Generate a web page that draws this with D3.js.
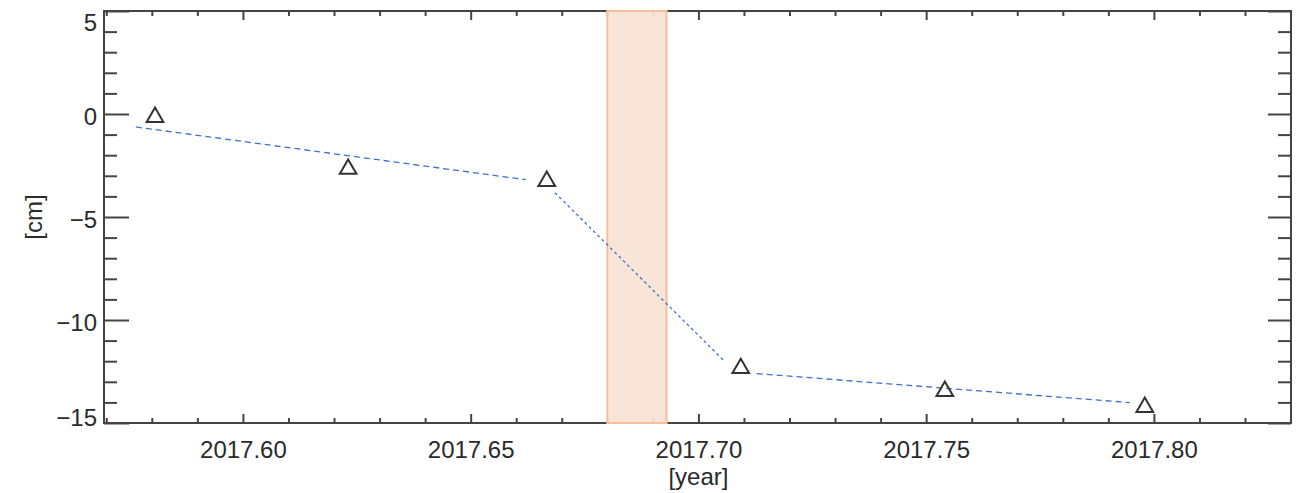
<!DOCTYPE html>
<html>
<head>
<meta charset="utf-8">
<script src="https://cdn.jsdelivr.net/npm/d3@7"></script>
<style>
  body { margin: 0; background: #fff; }
  text { font-family: "Liberation Sans", Arial, sans-serif; fill: #2a2a2a; }
</style>
</head>
<body>
<svg id="chart"></svg>
<script>
// observations (decimal year, displacement in cm)
const years = [2017.5807, 2017.6231, 2017.6667, 2017.7093, 2017.7541, 2017.7980];
const disp = [-0.08, -2.6, -3.19, -12.27, -13.38, -14.16];

// fitted line segments
const fitX0 = [2017.5765, 2017.6685, 2017.7128];
const fitX1 = [2017.6621, 2017.7058, 2017.7947];
const fitY0 = [-0.63, -3.82, -12.60];
const fitY1 = [-3.19, -12.02, -14.01];

// shaded event window
const eventStart = 2017.680, eventEnd = 2017.693;

const xTicks = [2017.60, 2017.65, 2017.70, 2017.75, 2017.80];
const yTicks = [5, 0, -5, -10, -15];

const width = 1301, height = 493;
const plotL = 104, plotR = 1291, plotT = 11, plotB = 423;

const svg = d3.select("#chart").attr("width", width).attr("height", height);

const x = d3.scaleLinear().domain([2017.5695, 2017.8301]).range([plotL, plotR]);
const y = d3.scaleLinear().domain([-15, 5]).range([plotB, plotT]);

const xMinor = d3.range(2017.57, 2017.831, 0.01).map(v => +v.toFixed(2)).filter(v => !xTicks.some(t => Math.abs(t - v) < 1e-6));
const yMinor = d3.range(-15, 5.01, 1).filter(v => v % 5 !== 0);

function styleAxis(g) {
    g.select(".domain").remove();
    g.selectAll("line").attr("stroke", "#444").attr("stroke-width", 2);
}

// bottom axis
svg.append("g").attr("transform", `translate(0,${plotB})`)
    .call(d3.axisBottom(x).tickValues(xTicks).tickSize(-9).tickPadding(18).tickFormat(d3.format(".2f")))
    .call(styleAxis)
    .selectAll("text").attr("font-size", 24).attr("fill", "#2a2a2a");
svg.append("g").attr("transform", `translate(0,${plotB})`)
    .call(d3.axisBottom(x).tickValues(xMinor).tickSize(-5).tickFormat(""))
    .call(styleAxis);

// top axis
svg.append("g").attr("transform", `translate(0,${plotT})`)
    .call(d3.axisTop(x).tickValues(xTicks).tickSize(-9).tickFormat(""))
    .call(styleAxis);
svg.append("g").attr("transform", `translate(0,${plotT})`)
    .call(d3.axisTop(x).tickValues(xMinor).tickSize(-5).tickFormat(""))
    .call(styleAxis);

// left axis
const yAx = svg.append("g").attr("transform", `translate(${plotL},0)`)
    .call(d3.axisLeft(y).tickValues(yTicks).tickSize(-25).tickPadding(7).tickFormat(d => d < 0 ? "\u2212" + Math.abs(d) : d))
    .call(styleAxis);
yAx.selectAll("text").attr("font-size", 24).attr("fill", "#2a2a2a")
    .attr("dy", d => d === 5 ? "0.8em" : d === -15 ? "0.1em" : "0.42em");
svg.append("g").attr("transform", `translate(${plotL},0)`)
    .call(d3.axisLeft(y).tickValues(yMinor).tickSize(-13).tickFormat(""))
    .call(styleAxis);

// right axis
svg.append("g").attr("transform", `translate(${plotR},0)`)
    .call(d3.axisRight(y).tickValues(yTicks).tickSize(-23).tickFormat(""))
    .call(styleAxis);
svg.append("g").attr("transform", `translate(${plotR},0)`)
    .call(d3.axisRight(y).tickValues(yMinor).tickSize(-13).tickFormat(""))
    .call(styleAxis);

// frame
svg.append("rect")
    .attr("x", plotL).attr("y", plotT)
    .attr("width", plotR - plotL).attr("height", plotB - plotT)
    .attr("fill", "none").attr("stroke", "#444").attr("stroke-width", 2);

// event window
svg.append("rect")
    .attr("x", x(eventStart)).attr("y", y(5))
    .attr("width", x(eventEnd) - x(eventStart)).attr("height", y(-15) - y(5))
    .attr("fill", "#f9e3d5").attr("fill-opacity", 0.93)
    .attr("stroke", "#f6bf9b").attr("stroke-width", 2);

// fitted segments
svg.append("g").selectAll("line")
    .data(fitX0.map((d, i) => ({ x0: d, x1: fitX1[i], y0: fitY0[i], y1: fitY1[i], i })))
    .enter().append("line")
    .attr("x1", d => x(d.x0)).attr("y1", d => y(d.y0))
    .attr("x2", d => x(d.x1)).attr("y2", d => y(d.y1))
    .attr("stroke", "#3b6fd4").attr("stroke-width", 1.3)
    .attr("stroke-dasharray", d => d.i === 1 ? "3,3" : "6,4");

// observations
const tri = d3.symbol().type(d3.symbolTriangle).size(120);
svg.append("g").selectAll("path")
    .data(years.map((d, i) => ({ t: d, v: disp[i] })))
    .enter().append("path")
    .attr("d", tri)
    .attr("transform", d => `translate(${x(d.t)},${y(d.v) + 1.5})`)
    .attr("fill", "none").attr("stroke", "#333").attr("stroke-width", 2);

// axis titles
svg.append("text")
    .attr("x", x(2017.70)).attr("y", 485)
    .attr("text-anchor", "middle").attr("font-size", 24)
    .text("[year]");
svg.append("text")
    .attr("transform", `translate(42,${y(-5)}) rotate(-90)`)
    .attr("text-anchor", "middle").attr("font-size", 24)
    .text("[cm]");
</script>
</body>
</html>
